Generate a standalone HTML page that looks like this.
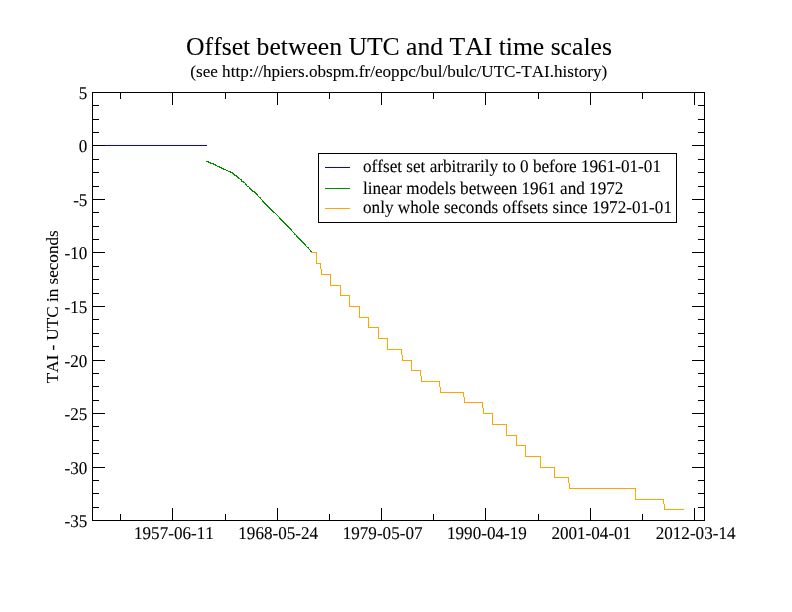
<!DOCTYPE html>
<html><head><meta charset="utf-8"><title>Offset between UTC and TAI time scales</title>
<style>
html,body{margin:0;padding:0;background:#fff;}
svg{display:block;}
text{font-family:"Liberation Serif","Times New Roman",serif;fill:#000;stroke:#000;stroke-width:.1px;font-kerning:none;font-variant-ligatures:none;}
.l{font-size:17.1px;}
.t{font-size:25.65px;}
.g{text-rendering:geometricPrecision;font-size:17.15px;}
.ax{stroke:#000;stroke-width:1;fill:none;shape-rendering:crispEdges;}
.d{fill:none;stroke-width:1;shape-rendering:crispEdges;}
</style></head><body>
<svg width="792" height="612" viewBox="0 0 792 612">
<rect x="0" y="0" width="792" height="612" fill="#fff"/>
<text class="t" x="186.1" y="55">Offset between UTC and TAI time scales</text>
<text class="l" x="190.3" y="76.7">(see http://hpiers.obspm.fr/eoppc/bul/bulc/UTC-TAI.history)</text>
<rect class="ax" x="92.5" y="92.5" width="612" height="428"/>
<path class="ax" d="M93 105.5h6M704 105.5h-6M93 119.5h6M704 119.5h-6M93 132.5h6M704 132.5h-6M93 145.5h12M704 145.5h-12M93 159.5h6M704 159.5h-6M93 172.5h6M704 172.5h-6M93 186.5h6M704 186.5h-6M93 199.5h12M704 199.5h-12M93 212.5h6M704 212.5h-6M93 226.5h6M704 226.5h-6M93 239.5h6M704 239.5h-6M93 252.5h12M704 252.5h-12M93 266.5h6M704 266.5h-6M93 279.5h6M704 279.5h-6M93 293.5h6M704 293.5h-6M93 306.5h12M704 306.5h-12M93 319.5h6M704 319.5h-6M93 333.5h6M704 333.5h-6M93 346.5h6M704 346.5h-6M93 360.5h12M704 360.5h-12M93 373.5h6M704 373.5h-6M93 386.5h6M704 386.5h-6M93 400.5h6M704 400.5h-6M93 413.5h12M704 413.5h-12M93 426.5h6M704 426.5h-6M93 440.5h6M704 440.5h-6M93 453.5h6M704 453.5h-6M93 467.5h12M704 467.5h-12M93 480.5h6M704 480.5h-6M93 493.5h6M704 493.5h-6M93 507.5h6M704 507.5h-6M120.5 93v6M120.5 520v-6M172.5 93v12M172.5 520v-12M225.5 93v6M225.5 520v-6M277.5 93v12M277.5 520v-12M329.5 93v6M329.5 520v-6M381.5 93v12M381.5 520v-12M433.5 93v6M433.5 520v-6M485.5 93v12M485.5 520v-12M538.5 93v6M538.5 520v-6M590.5 93v12M590.5 520v-12M642.5 93v6M642.5 520v-6M694.5 93v12M694.5 520v-12"/>
<text class="l" transform="translate(87.4 99.0) scale(1 1.05)" style="text-rendering:geometricPrecision" text-anchor="end">5</text>
<text class="l" transform="translate(87.4 152.0) scale(1 1.05)" style="text-rendering:geometricPrecision" text-anchor="end">0</text>
<text class="l" transform="translate(87.4 206.0) scale(1 1.05)" style="text-rendering:geometricPrecision" text-anchor="end">-5</text>
<text class="l" transform="translate(87.4 259.0) scale(1 1.05)" style="text-rendering:geometricPrecision" text-anchor="end">-10</text>
<text class="l" transform="translate(87.4 313.0) scale(1 1.05)" style="text-rendering:geometricPrecision" text-anchor="end">-15</text>
<text class="l" transform="translate(87.4 367.0) scale(1 1.05)" style="text-rendering:geometricPrecision" text-anchor="end">-20</text>
<text class="l" transform="translate(87.4 420.0) scale(1 1.05)" style="text-rendering:geometricPrecision" text-anchor="end">-25</text>
<text class="l" transform="translate(87.4 474.0) scale(1 1.05)" style="text-rendering:geometricPrecision" text-anchor="end">-30</text>
<text class="l" transform="translate(87.4 527.0) scale(1 1.05)" style="text-rendering:geometricPrecision" text-anchor="end">-35</text>
<text class="l" transform="translate(173.9 539) scale(1 1.05)" style="text-rendering:geometricPrecision" text-anchor="middle">1957-06-11</text>
<text class="l" transform="translate(278.2 539) scale(1 1.05)" style="text-rendering:geometricPrecision" text-anchor="middle">1968-05-24</text>
<text class="l" transform="translate(382.6 539) scale(1 1.05)" style="text-rendering:geometricPrecision" text-anchor="middle">1979-05-07</text>
<text class="l" transform="translate(486.9 539) scale(1 1.05)" style="text-rendering:geometricPrecision" text-anchor="middle">1990-04-19</text>
<text class="l" transform="translate(591.3 539) scale(1 1.05)" style="text-rendering:geometricPrecision" text-anchor="middle">2001-04-01</text>
<text class="l" transform="translate(695.6 539) scale(1 1.05)" style="text-rendering:geometricPrecision" text-anchor="middle">2012-03-14</text>
<text class="l" transform="translate(58.4,306.8) rotate(-90)" text-anchor="middle">TAI - UTC in seconds</text>
<path class="d" stroke="#0000ff" d="M105 145.5H207"/>
<path class="d" stroke="#008b00" d="M206 161.5h3M208 162.5h3M210 163.5h4M213 164.5h3M215 165.5h2M217 166.5h3M219 167.5h3M221 168.5h3M223 169.5h3M226 170.5h2M228 171.5h3M230 172.5h3M232 173.5h2M233 174.5h2M234 175.5h3M236 176.5h2M237 177.5h2M238 178.5h2M240 179.5h2M241 180.5h1M241 181.5h3M243 182.5h2M245 183.5h1M245 184.5h2M246 185.5h1M247 186.5h2M249 187.5h1M249 188.5h2M250 189.5h2M251 190.5h2M252 191.5h3M254 192.5h2M255 193.5h2M256 194.5h2M257 195.5h1M258 196.5h1M259 197.5h2M260 198.5h1M261 199.5h1M262 200.5h1M262 201.5h2M263 202.5h2M264 203.5h2M265 204.5h2M266 205.5h2M267 206.5h2M268 207.5h2M269 208.5h2M270 209.5h2M271 210.5h2M272 211.5h2M273 212.5h2M275 213.5h1M276 214.5h1M277 215.5h1M278 216.5h1M279 217.5h1M279 218.5h2M280 219.5h2M281 220.5h2M282 221.5h2M283 222.5h2M284 223.5h2M285 224.5h2M286 225.5h2M287 226.5h2M288 227.5h2M289 228.5h2M290 229.5h2M291 230.5h1M292 231.5h1M293 232.5h1M294 233.5h1M294 234.5h2M296 235.5h1M296 236.5h2M297 237.5h2M298 238.5h2M299 239.5h2M300 240.5h2M301 241.5h2M302 242.5h2M303 243.5h2M304 244.5h2M305 245.5h1M306 246.5h1M307 247.5h2M308 248.5h1M309 249.5h1M310 250.5h1M310 251.5h2"/>
<path class="d" stroke="#ffa500" d="M311 252.5H317M316.5 252V264M316 263.5H321M320.5 263V269M321.5 269V275M321 274.5H331M330.5 274V286M330 285.5H341M340.5 285V296M340 295.5H350M349.5 295V307M349 306.5H360M359.5 306V318M359 317.5H369M368.5 317V328M368 327.5H379M378.5 327V339M378 338.5H388M387.5 338V350M387 349.5H402M401.5 349V355M402.5 355V361M402 360.5H412M411.5 360V371M411 370.5H421M420.5 370V376M421.5 376V382M421 381.5H440M439.5 381V387M440.5 387V393M440 392.5H464M463.5 392V397M464.5 397V403M464 402.5H483M482.5 402V408M483.5 408V414M483 413.5H493M492.5 413V425M492 424.5H507M506.5 424V436M506 435.5H517M516.5 435V446M516 445.5H526M525.5 445V457M525 456.5H541M540.5 456V468M540 467.5H555M554.5 467V478M554 477.5H569M568.5 477V483M569.5 483V489M569 488.5H636M635.5 488V500M635 499.5H664M663.5 499V504M664.5 504V510M664 509.5H684"/>
<rect class="ax" x="318.5" y="153.5" width="358" height="69" fill="#fff" style="fill:#fff"/>
<path class="d" stroke="#0000ff" d="M325 167.5H350"/>
<text class="l g" transform="translate(363 172.2) scale(1 1.04)">offset set arbitrarily to 0 before 1961-01-01</text>
<path class="d" stroke="#008b00" d="M325 188.5H350"/>
<text class="l g" transform="translate(363 194.2) scale(1 1.04)">linear models between 1961 and 1972</text>
<path class="d" stroke="#ffa500" d="M325 208.5H350"/>
<text class="l g" transform="translate(363 212.9) scale(1 1.04)">only whole seconds offsets since 1972-01-01</text>
</svg>
</body></html>
